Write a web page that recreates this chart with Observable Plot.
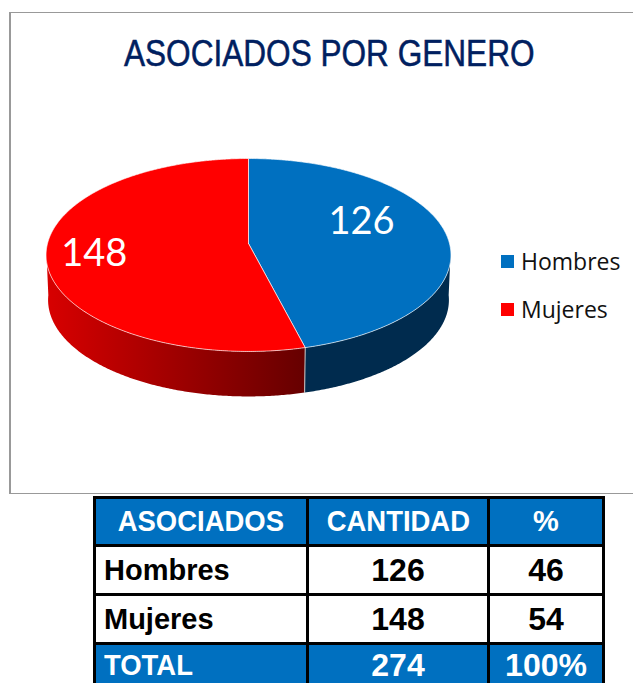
<!DOCTYPE html>
<html><head><meta charset="utf-8">
<script src="https://cdn.jsdelivr.net/npm/d3@7"></script>
<script src="https://cdn.jsdelivr.net/npm/@observablehq/plot@0.6"></script>
<style>
html,body{margin:0;padding:0;background:#fff;}
#page{position:relative;width:633px;height:683px;overflow:hidden;background:#fff;}
#frame{position:absolute;left:9px;top:12px;width:700px;height:480px;border:1px solid #999;border-left-width:2px;box-sizing:content-box;}
#title{position:absolute;left:124px;top:31px;white-space:nowrap;font:400 36px "Liberation Sans",sans-serif;color:#002060;-webkit-text-stroke:.5px #002060;line-height:46px;transform:scaleX(.877);transform-origin:left center;}
#chart{position:absolute;left:0;top:0;}
#chart svg{background:transparent;display:block;}
#legend{position:absolute;left:501px;top:244px;font:23px "Open Sans",sans-serif;color:#111;}
#legend div{position:relative;height:48px;line-height:34px;padding-left:20px;white-space:nowrap;}
#legend i{position:absolute;left:0;top:11px;width:13px;height:13px;}
table{position:absolute;left:93px;top:496px;border-collapse:collapse;table-layout:fixed;width:512px;font:700 29px "Liberation Sans",Arial,sans-serif;color:#000;}
td{border:3px solid #000;padding:0;text-align:center;height:46px;line-height:38px;overflow:hidden;white-space:nowrap;}
tr.h td{height:45px;}
tr.h td span{position:relative;top:-1px;}
tr.f td{height:38px;line-height:38px;}
tr.f td span{position:relative;top:1px;line-height:36px;}
td.l{text-align:left;padding-left:8px;}
td.n{font-size:32px;}
tr.b td{background:#0070c0;color:#fff;}
td span{display:inline-block;}
td.t span{font-size:30px;transform:scaleX(.915);}
td.t.l span{transform-origin:left center;}
</style></head>
<body><div id="page">
<div id="frame"></div>
<div id="chart"></div>
<div id="title"></div>
<div id="legend"></div>
<table id="tbl"></table>
</div>
<script>
const titleText = "ASOCIADOS POR GENERO";
const categories = ["Hombres", "Mujeres"];
const cantidad = [126, 148];
const porcentaje = [46, 54];
const colors = ["#0070c0", "#ff0000"];
const headers = ["ASOCIADOS", "CANTIDAD", "%"];
const totalRow = ["TOTAL", "274", "100%"];
const colWidths = [213, 181, 115];

// projection of the tilted disc
const cx = 248, cy = 243, A = 201, B = 95.1, k = 0.119, depth = 45, shrink = 0.99;
const total = d3.sum(cantidad);
const rad = d => d * Math.PI / 180;
function project(theta, r = 1, lower = false) {
  const u = r * Math.sin(theta), v = -r * Math.cos(theta), w = 1 - k * v;
  const s = lower ? shrink : 1;
  return {x: cx + s * A * u / w, y: cy + B * v / w + (lower ? depth : 0)};
}
let acc = 0;
const slices = categories.map((c, i) => {
  const a0 = acc / total * 2 * Math.PI; acc += cantidad[i];
  const a1 = acc / total * 2 * Math.PI;
  return {name: c, value: cantidad[i], a0, a1, color: colors[i]};
});
function arc(a0, a1, r, lower) {
  const n = Math.max(2, Math.ceil(Math.abs(a1 - a0) / rad(0.5)));
  return d3.range(n + 1).map(j => project(a0 + (a1 - a0) * j / n, r, lower));
}
const topPolys = slices.map(s => [project(0, 0), ...arc(s.a0, s.a1, 1, false), project(0, 0)]);
// visible side wall: from the seam out to the silhouette of the disc
const seam = slices[0].a1;
const sideBlue = [...arc(rad(94), seam, 1, false), ...arc(seam, rad(94), 1, true)];
const sideRed = [...arc(seam, rad(266), 1, false), ...arc(rad(266), seam, 1, true)];
const seamLine = [project(seam, 1, false), project(seam, 1, true)];

const labelPlace = [{r: 0.572, dy: -15}, {r: 0.765, dy: 1}];
const labels = slices.map((s, i) => {
  const p = project((s.a0 + s.a1) / 2, labelPlace[i].r);
  return {x: p.x, y: p.y + labelPlace[i].dy, text: String(s.value)};
});

function gradient() {
  const NS = "http://www.w3.org/2000/svg";
  const defs = document.createElementNS(NS, "defs");
  const g = document.createElementNS(NS, "linearGradient");
  g.setAttribute("id", "redSide");
  g.setAttribute("gradientUnits", "userSpaceOnUse");
  g.setAttribute("x1", 46); g.setAttribute("x2", 304);
  g.setAttribute("y1", 0); g.setAttribute("y2", 0);
  [["0", "#d80000"], ["1", "#660000"]].forEach(([o, c]) => {
    const st = document.createElementNS(NS, "stop");
    st.setAttribute("offset", o); st.setAttribute("stop-color", c);
    g.appendChild(st);
  });
  defs.appendChild(g);
  return defs;
}

const chart = Plot.plot({
  width: 633, height: 494,
  margin: 0,
  x: {type: "linear", domain: [0, 633], range: [0, 633], axis: null},
  y: {type: "linear", domain: [0, 494], range: [0, 494], axis: null},
  marks: [
    gradient,
    Plot.line(sideBlue, {x: "x", y: "y", fill: "#002b4e", stroke: "none"}),
    Plot.line(sideRed, {x: "x", y: "y", fill: "url(#redSide)", stroke: "none"}),
    Plot.line(seamLine, {x: "x", y: "y", stroke: "#c8c8c8", strokeWidth: 1}),
    ...topPolys.map((p, i) => Plot.line(p, {x: "x", y: "y", fill: colors[i], stroke: "#fff", strokeOpacity: 0.65, strokeWidth: 1})),
    Plot.text(labels, {x: "x", y: "y", text: "text", fill: "#fff", fontSize: 38, fontFamily: "Lato", textAnchor: "middle", lineAnchor: "middle"})
  ]
});
document.getElementById("chart").appendChild(chart);

document.getElementById("title").textContent = titleText;
const legend = document.getElementById("legend");
categories.forEach((c, i) => {
  const d = document.createElement("div");
  const sw = document.createElement("i");
  sw.style.background = colors[i];
  d.appendChild(sw);
  d.appendChild(document.createTextNode(c));
  legend.appendChild(d);
});

const rows = [
  {cls: "b h", cells: headers, kinds: ["t", "t", ""]},
  {cls: "", cells: [categories[0], cantidad[0], porcentaje[0]], kinds: ["l", "n", "n"]},
  {cls: "", cells: [categories[1], cantidad[1], porcentaje[1]], kinds: ["l", "n", "n"]},
  {cls: "b f", cells: totalRow, kinds: ["t l", "n", "n"]}
];
const tbl = document.getElementById("tbl");
const cg = document.createElement("colgroup");
colWidths.forEach(w => { const c = document.createElement("col"); c.style.width = w + "px"; cg.appendChild(c); });
tbl.appendChild(cg);
rows.forEach(r => {
  const tr = document.createElement("tr");
  tr.className = r.cls;
  r.cells.forEach((v, j) => {
    const td = document.createElement("td");
    td.className = r.kinds[j];
    const sp = document.createElement("span");
    sp.textContent = v;
    td.appendChild(sp);
    tr.appendChild(td);
  });
  tbl.appendChild(tr);
});
</script>
</body></html>
